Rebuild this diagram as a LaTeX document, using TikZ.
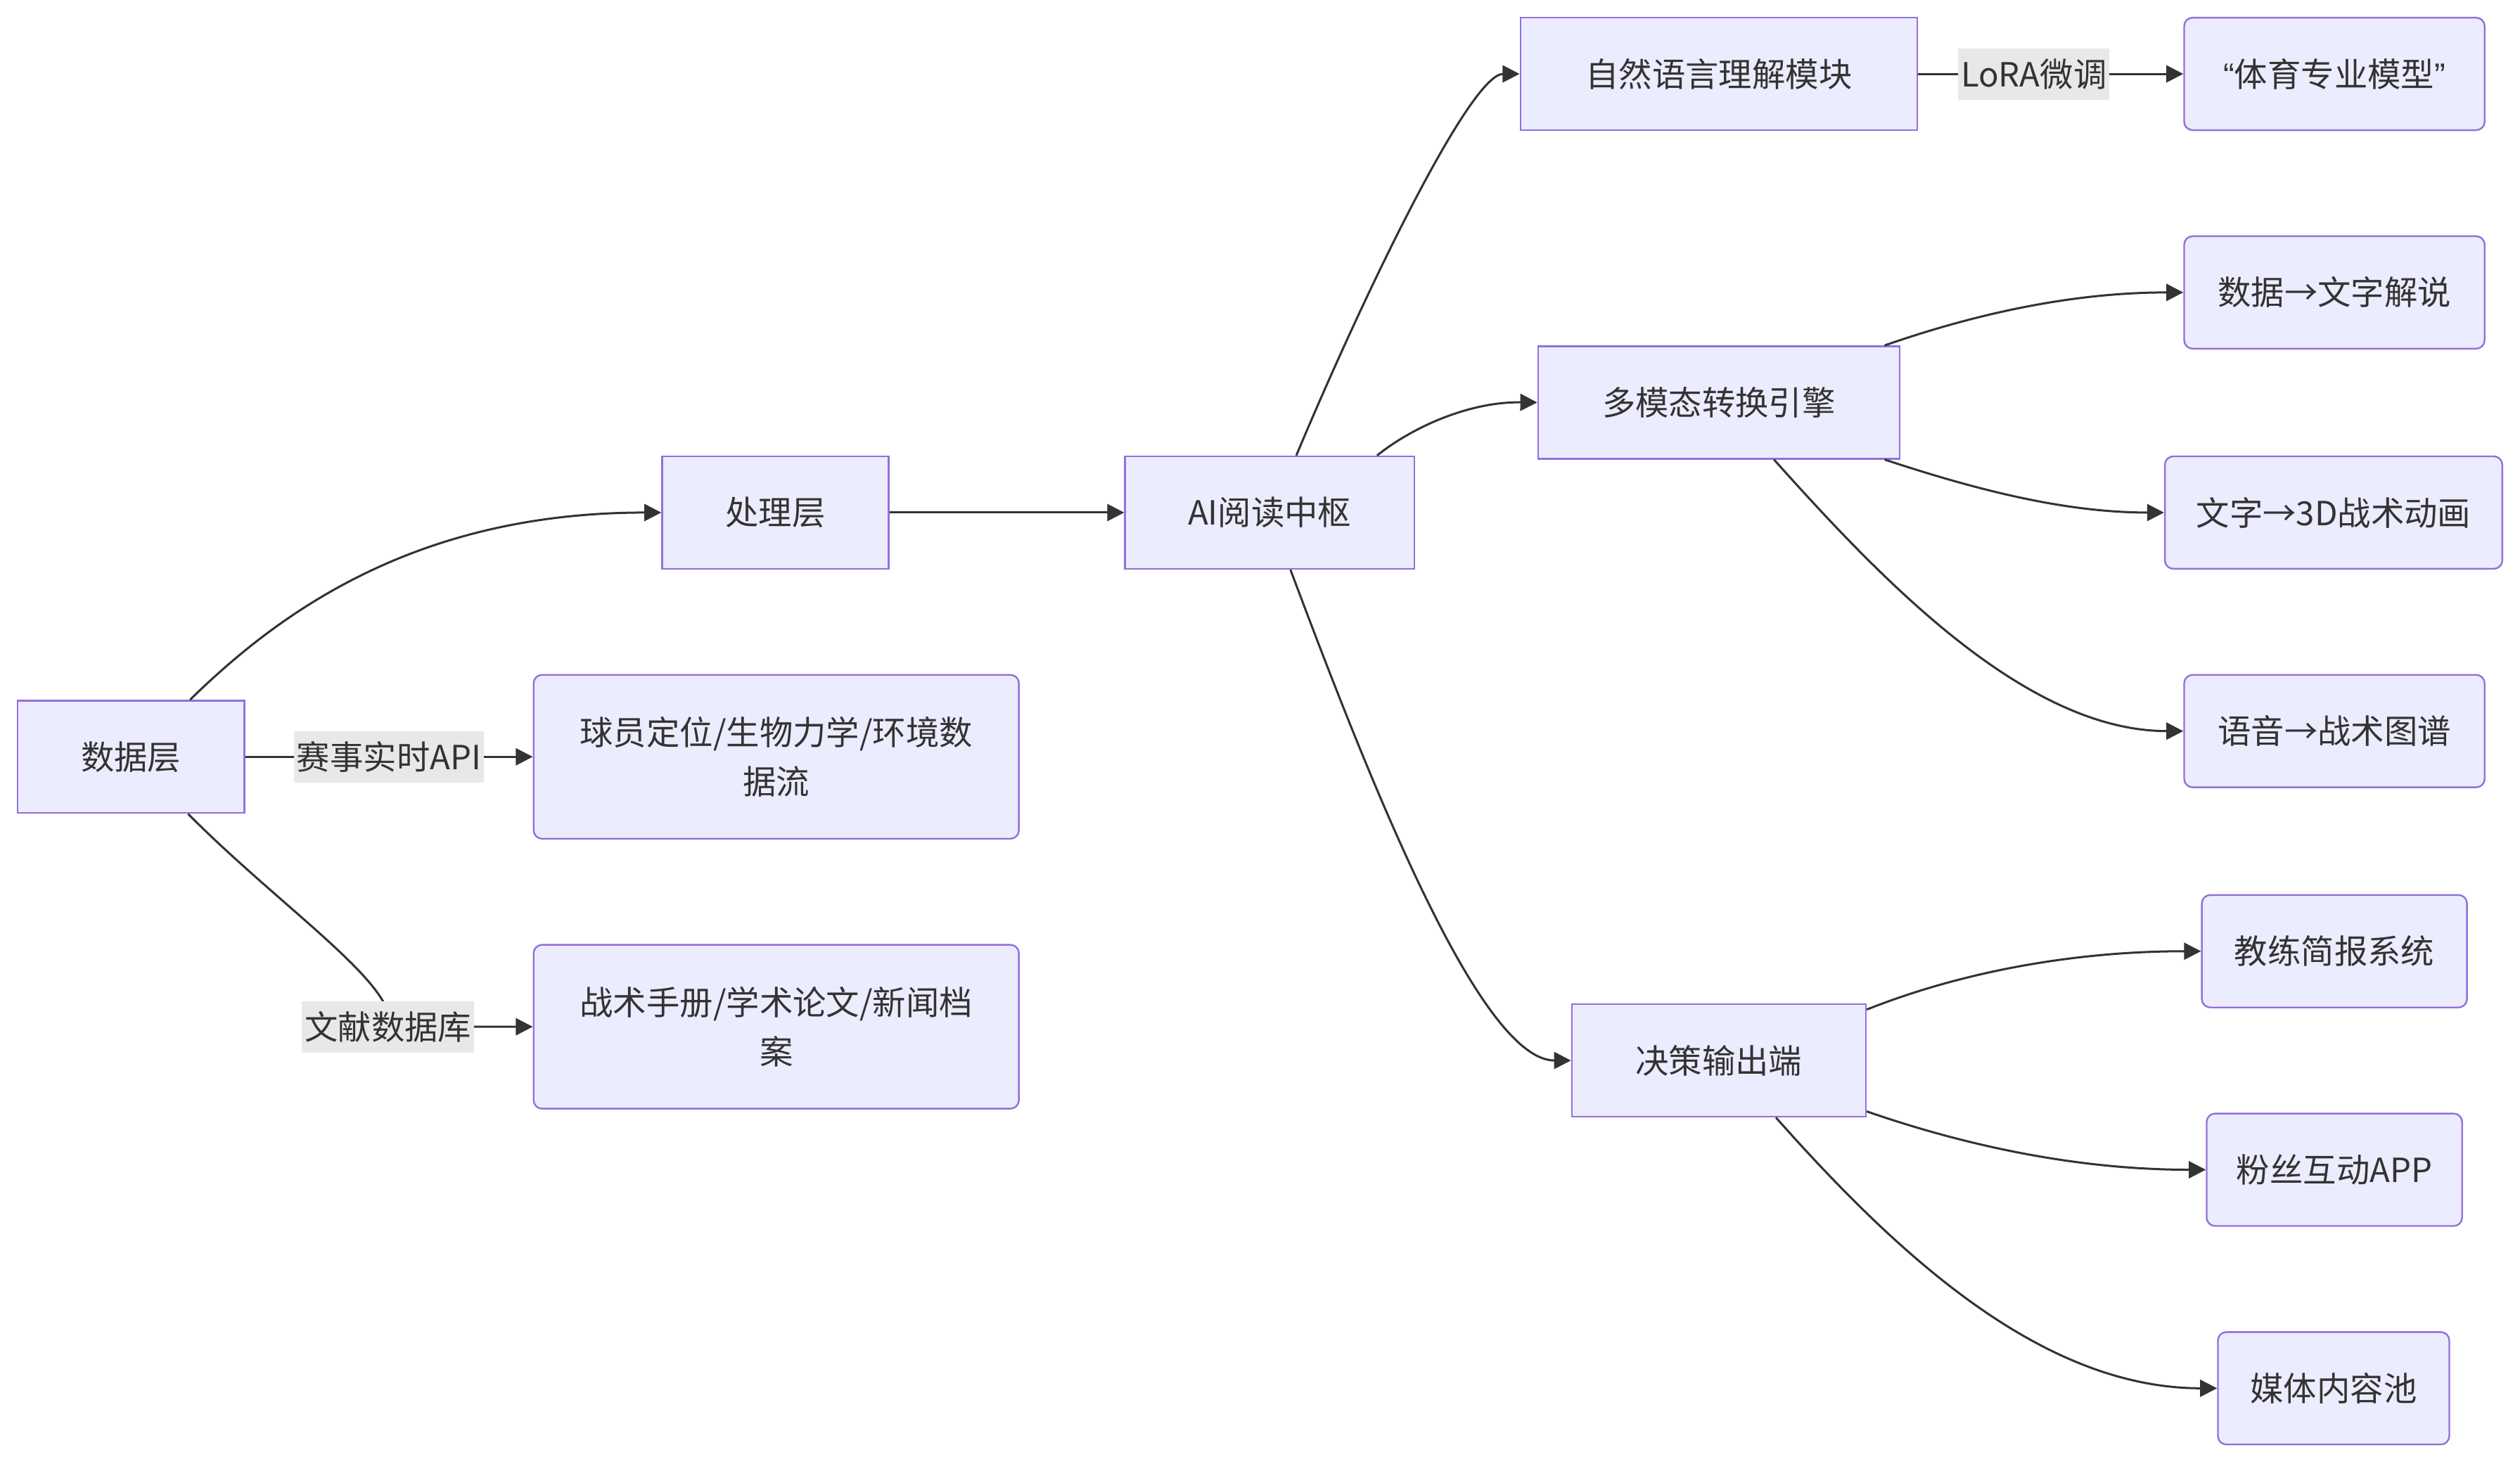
\documentclass[tikz,border=0pt]{standalone}
\usepackage{fontspec}
\setmainfont{Noto Sans CJK SC}
\newfontfamily\quotefont{Liberation Sans}
\usetikzlibrary{arrows.meta}
\definecolor{boxfill}{HTML}{ECECFF}
\definecolor{boxline}{HTML}{9370DB}
\definecolor{ink}{HTML}{333333}
\definecolor{labelbg}{HTML}{E8E8E8}

\begin{document}
\begin{tikzpicture}[x=0.02cm, y=-0.02cm,
    font=\fontsize{11.8}{17.6}\selectfont, text=ink,
    box/.style={draw=boxline, fill=boxfill, line width=0.6pt, minimum height=1.4cm, align=center, inner sep=0pt},
    leaf/.style={box, rounded corners=3pt},
    edge/.style={draw=ink, line width=0.75pt, -{Triangle[length=6pt,width=6pt]}},
    elabel/.style={fill=labelbg, inner xsep=1pt, inner ysep=0pt, minimum height=0.64cm}]
    \useasboundingbox (0,0) rectangle (1568,911);
    % left part
    \node[box, minimum width=2.82cm] (dl) at (81.5,471) {数据层};
    \node[box, minimum width=2.82cm] (pl) at (482.5,319) {处理层};
    \node[box, minimum width=3.6cm] (ai) at (790,319) {AI阅读中枢};
    \node[leaf, minimum width=6.04cm, minimum height=2.04cm] (qy) at (483,471) {球员定位/生物力学/环境数\\据流};
    \node[leaf, minimum width=6.04cm, minimum height=2.04cm] (zs) at (483,639) {战术手册/学术论文/新闻档\\案};
    % middle column
    \node[box, minimum width=4.94cm] (zr) at (1069.5,46) {自然语言理解模块};
    \node[box, minimum width=4.5cm] (mm) at (1069.5,250.5) {多模态转换引擎};
    \node[box, minimum width=3.66cm] (jc) at (1069.5,660) {决策输出端};
    % right column
    \node[leaf, minimum width=3.74cm] (ty) at (1452.5,46) {{\quotefont “}体育专业模型{\quotefont ”}};
    \node[leaf, minimum width=3.74cm] (sj) at (1452.5,182) {数据→文字解说};
    \node[leaf, minimum width=4.2cm] (wz) at (1452,319) {文字→3D战术动画};
    \node[leaf, minimum width=3.74cm] (yy) at (1452.5,455) {语音→战术图谱};
    \node[leaf, minimum width=3.3cm] (jl) at (1452.5,592) {教练简报系统};
    \node[leaf, minimum width=3.18cm] (fs) at (1452.5,728) {粉丝互动APP};
    \node[leaf, minimum width=2.88cm] (mt) at (1452,864) {媒体内容池};
    % connectors
    \draw[edge] (dl.44) .. controls (175,380) and (260,319) .. (pl.west);
    \draw[edge] (dl) -- node[elabel] {赛事实时API} (qy);
    \path (zs.west) ++(-90,0) coordinate (wk);
    \draw[edge] (dl.-45) .. controls (175,565) and (250,615) .. (wk) node[elabel] {文献数据库} -- (zs.west);
    \draw[edge] (pl) -- (ai);
    \draw[edge] (ai.65) .. controls (850,180) and (915,46) .. (zr.west);
    \draw[edge] (ai.28) .. controls (880,265) and (915,250) .. (mm.west);
    \draw[edge] (ai.-70) .. controls (850,480) and (920,660) .. (jc.west);
    \draw[edge] (zr) -- node[elabel, xshift=-6] {LoRA微调} (ty);
    \draw[edge] (mm.19) .. controls (1230,195) and (1290,182) .. (sj.west);
    \draw[edge] (mm.-19) .. controls (1230,305) and (1285,319) .. (wz.west);
    \draw[edge] (mm.-46) .. controls (1170,360) and (1260,455) .. (yy.west);
    \draw[edge] (jc.19) .. controls (1220,605) and (1290,592) .. (jl.west);
    \draw[edge] (jc.-19) .. controls (1220,712) and (1290,728) .. (fs.west);
    \draw[edge] (jc.-45) .. controls (1180,780) and (1270,864) .. (mt.west);
\end{tikzpicture}
\end{document}
